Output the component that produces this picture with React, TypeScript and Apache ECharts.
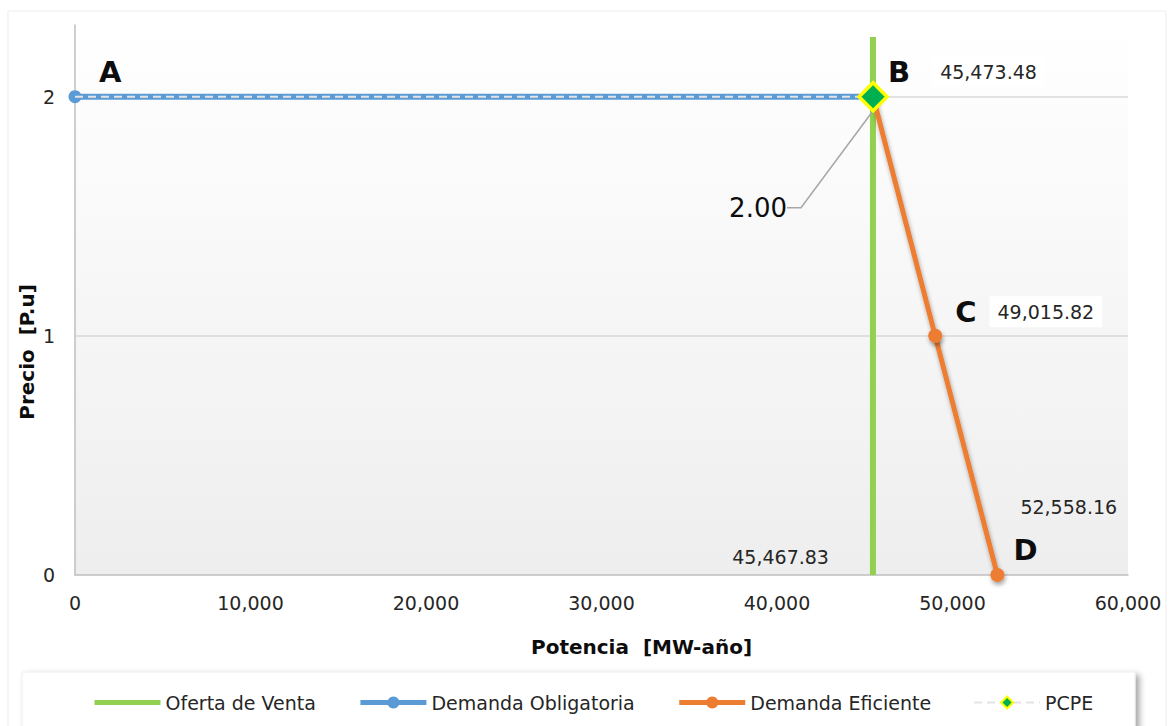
import React, { useEffect, useRef } from 'react';
import * as echarts from 'echarts';

// Curva de oferta y demanda de potencia
const potenciaOferta = [45467.83, 45467.83];
const precioOferta = [0, 2.25];

const potenciaObligatoria = [0, 45473.48];
const precioObligatoria = [2, 2];

const potenciaEficiente = [45473.48, 49015.82, 52558.16];
const precioEficiente = [2, 1, 0];

const potenciaPCPE = [0, 45473.48];
const precioPCPE = [2, 2];

const nombresSeries = ['Oferta de Venta', 'Demanda Obligatoria', 'Demanda Eficiente', 'PCPE'];

const FONT = 'DejaVu Sans';
const fmt2 = (n: number) =>
  n.toLocaleString('en-US', { minimumFractionDigits: 2, maximumFractionDigits: 2 });
const fmt0 = (n: number) => n.toLocaleString('en-US');

const sombra = {
  shadowColor: 'rgba(0,0,0,0.35)',
  shadowBlur: 4,
  shadowOffsetX: 1,
  shadowOffsetY: 3,
};

const letra = { fontFamily: FONT, fontWeight: 'bold', fontSize: 29, color: '#0d0d0d' };
const valor = { fontFamily: FONT, fontSize: 19, color: '#262626' };

const richEtiquetas = {
  lB: { ...letra, padding: [0, 22, 0, 0] },
  lC: { ...letra, padding: [0, 13, 0, 0] },
  lD: { ...letra, lineHeight: 43 },
  v: { ...valor, backgroundColor: '#ffffff', padding: [6, 8, 6, 8] },
  vD: { ...valor, lineHeight: 43, padding: [0, 0, 0, 7] },
};

export default function App() {
  const ref = useRef<HTMLDivElement>(null);

  useEffect(() => {
    if (!ref.current) return;
    const chart = echarts.init(ref.current, null, { renderer: 'svg' });

    const ofertaData = potenciaOferta.map((x, i) =>
      i === 0
        ? {
            value: [x, precioOferta[i]],
            symbol: 'circle',
            symbolSize: 1,
            label: {
              show: true,
              position: 'inside',
              align: 'right',
              offset: [-44, -18],
              formatter: fmt2(x),
              ...valor,
            },
          }
        : { value: [x, precioOferta[i]] }
    );

    const obligatoriaData = potenciaObligatoria.map((x, i) =>
      i === 0
        ? {
            value: [x, precioObligatoria[i]],
            label: {
              show: true,
              position: 'inside',
              align: 'left',
              offset: [24, -25],
              formatter: 'A',
              ...letra,
            },
          }
        : { value: [x, precioObligatoria[i]] }
    );

    const formatos = [
      (x: number) => `{lB|B}{v|${fmt2(x)}}`,
      (x: number) => `{lC|C}{v|${fmt2(x)}}`,
      (x: number) => `{vD|${fmt2(x)}}\n{lD|D}`,
    ];
    const offsetsEficiente = [
      [15, -25],
      [20, -24],
      [16, -47],
    ];
    const eficienteData = potenciaEficiente.map((x, i) => ({
      value: [x, precioEficiente[i]],
      label: {
        show: true,
        position: 'inside',
        align: 'left',
        offset: offsetsEficiente[i],
        formatter: formatos[i](x),
        rich: richEtiquetas,
      },
    }));

    const pcpeData = potenciaPCPE.map((x, i) =>
      i === 0
        ? { value: [x, precioPCPE[i]], symbol: 'none' }
        : {
            value: [x, precioPCPE[i]],
            label: {
              show: true,
              position: 'inside',
              formatter: precioPCPE[i].toFixed(2),
              fontFamily: FONT,
              fontSize: 26,
              color: '#0d0d0d',
            },
          }
    );

    chart.setOption({
      animation: false,
      textStyle: { fontFamily: FONT },
      graphic: [
        {
          type: 'rect',
          z: -10,
          shape: { x: 8, y: 11, width: 1158, height: 720 },
          style: { fill: 'none', stroke: '#ededed', lineWidth: 1 },
          silent: true,
        },
        {
          type: 'rect',
          z: -5,
          shape: { x: 22, y: 672, width: 1113, height: 70 },
          style: {
            fill: '#ffffff',
            stroke: '#eeeeee',
            lineWidth: 1,
            shadowColor: 'rgba(0,0,0,0.35)',
            shadowBlur: 6,
            shadowOffsetX: 4,
            shadowOffsetY: 3,
          },
          silent: true,
        },
        {
          // título del eje vertical
          type: 'text',
          x: 27,
          y: 352,
          rotation: Math.PI / 2,
          style: {
            text: 'Precio  [P.u]',
            fontFamily: FONT,
            fontWeight: 'bold',
            fontSize: 20,
            fill: '#0d0d0d',
            align: 'center',
            verticalAlign: 'middle',
          },
          silent: true,
        },
      ],
      grid: {
        left: 75,
        right: 43,
        top: 25,
        bottom: 151,
        show: true,
        borderWidth: 0,
        backgroundColor: {
          type: 'linear',
          x: 0,
          y: 0,
          x2: 0,
          y2: 1,
          colorStops: [
            { offset: 0, color: '#ffffff' },
            { offset: 1, color: '#eeeeee' },
          ],
        },
      },
      legend: {
        data: [
          { name: nombresSeries[0], itemStyle: { opacity: 0 }, lineStyle: { width: 5 } },
          { name: nombresSeries[1], lineStyle: { width: 5 } },
          { name: nombresSeries[2], lineStyle: { width: 5 } },
          { name: nombresSeries[3], lineStyle: { width: 2 } },
        ],
        left: 87,
        top: 688,
        itemWidth: 66,
        itemHeight: 15,
        itemGap: 42,
        textStyle: { fontFamily: FONT, fontSize: 19, color: '#262626' },
      },
      xAxis: {
        type: 'value',
        min: 0,
        max: 60000,
        interval: 10000,
        name: 'Potencia  [MW-año]',
        nameLocation: 'middle',
        nameGap: 62,
        nameTextStyle: {
          fontFamily: FONT,
          fontWeight: 'bold',
          fontSize: 20,
          color: '#0d0d0d',
          padding: [0, 0, 0, 80],
        },
        axisLine: { show: true, lineStyle: { color: '#bfbfbf', width: 1.5 } },
        axisTick: { show: false },
        splitLine: { show: false },
        axisLabel: {
          margin: 18,
          fontFamily: FONT,
          fontSize: 19,
          color: '#262626',
          formatter: (v: number) => fmt0(v),
        },
      },
      yAxis: {
        type: 'value',
        min: 0,
        max: 2.3,
        interval: 1,
        axisLine: { show: true, lineStyle: { color: '#bfbfbf', width: 1.5 } },
        axisTick: { show: false },
        splitLine: {
          show: true,
          showMinLine: false,
          showMaxLine: false,
          lineStyle: { color: '#d9d9d9', width: 1.5 },
        },
        axisLabel: {
          margin: 20,
          fontFamily: FONT,
          fontSize: 19,
          color: '#262626',
          showMaxLabel: false,
          formatter: (v: number) => (Number.isInteger(v) ? String(v) : ''),
        },
      },
      series: [
        {
          name: nombresSeries[0],
          type: 'line',
          z: 2,
          symbol: 'none',
          data: ofertaData,
          itemStyle: { color: '#92D050' },
          lineStyle: { color: '#92D050', width: 6 },
        },
        {
          name: nombresSeries[1],
          type: 'line',
          z: 3,
          symbol: 'circle',
          symbolSize: 13,
          data: obligatoriaData,
          itemStyle: { color: '#5B9BD5' },
          lineStyle: { color: '#5B9BD5', width: 6 },
        },
        {
          name: nombresSeries[2],
          type: 'line',
          z: 3,
          symbol: 'circle',
          symbolSize: 14,
          data: eficienteData,
          itemStyle: { color: '#ED7D31', ...sombra },
          lineStyle: { color: '#ED7D31', width: 5, ...sombra },
        },
        {
          name: nombresSeries[3],
          type: 'line',
          z: 5,
          symbol: 'diamond',
          symbolSize: 28,
          data: pcpeData,
          itemStyle: { color: '#00B050', borderColor: '#FFFF00', borderWidth: 3.5 },
          lineStyle: { color: '#e4e4e4', width: 2, type: [8, 5] },
          labelLayout: { dx: -115, dy: 111 },
          labelLine: {
            show: true,
            length2: 14,
            lineStyle: { color: '#a6a6a6', width: 1.5 },
          },
        },
      ],
    });

    return () => chart.dispose();
  }, []);

  return (
    <div
      ref={ref}
      style={{ position: 'absolute', left: 0, top: 0, width: 1171, height: 726, background: '#ffffff' }}
    />
  );
}
